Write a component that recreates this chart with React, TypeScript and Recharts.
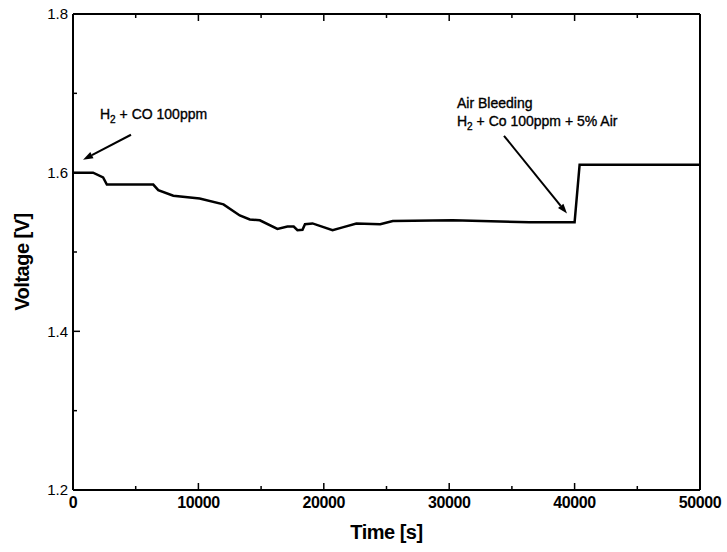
import { LineChart, Line, XAxis, YAxis, ReferenceLine, ReferenceDot } from 'recharts';

const timeS = [
  0, 1600, 2400, 2700, 6400, 6800, 8000, 10100, 12000, 13300, 14100, 14900, 16300, 17100,
  17600, 17900, 18300, 18500, 19100, 20700, 21500, 22600, 24500, 25500, 30300, 36400, 40000,
  40400, 50000,
];
const voltageV = [
  1.6, 1.6, 1.594, 1.585, 1.585, 1.578, 1.571, 1.5675, 1.56, 1.546, 1.541, 1.54, 1.529, 1.532,
  1.532, 1.5275, 1.528, 1.535, 1.536, 1.5275, 1.531, 1.536, 1.535, 1.539, 1.54, 1.5375, 1.5375,
  1.61, 1.61,
];

const xTicks = [0, 5000, 10000, 15000, 20000, 25000, 30000, 35000, 40000, 45000, 50000];
const yTicks = [1.2, 1.3, 1.4, 1.5, 1.6, 1.7, 1.8];

// annotation arrows: [tail, head] in data units
const arrowCo = [{ x: 4625, y: 1.6478 }, { x: 800, y: 1.6164 }];
const arrowAir = [{ x: 34370, y: 1.6465 }, { x: 39394, y: 1.5484 }];

const data = timeS.map((t, i) => ({ t, v: voltageV[i] }));

const FONT = '"Liberation Sans", Arial, sans-serif';
const TICK = 0.01; // near-zero so tick x/y sit on the axis line

const isMajorX = (v: number) => v % 10000 === 0;
const isMajorY = (v: number) => Math.round(v * 10) % 2 === 0;

function BottomTick({ x, y, payload }: any) {
  const major = isMajorX(payload.value);
  return (
    <g>
      <line x1={x} y1={y} x2={x} y2={y - (major ? 7 : 4)} stroke="#000" strokeWidth={1.5} />
      {major && (
        <text x={x} y={y + 18} textAnchor="middle" fontFamily={FONT} fontWeight="bold" fontSize={16} letterSpacing={-0.4} fill="#000">
          {payload.value}
        </text>
      )}
    </g>
  );
}

function TopTick({ x, y, payload }: any) {
  const major = isMajorX(payload.value);
  return <line x1={x} y1={y} x2={x} y2={y + (major ? 7 : 4)} stroke="#000" strokeWidth={1.5} />;
}

function LeftTick({ x, y, payload }: any) {
  const major = isMajorY(payload.value);
  return (
    <g>
      <line x1={x} y1={y} x2={x + (major ? 7 : 4)} y2={y} stroke="#000" strokeWidth={1.5} />
      {major && (
        <text x={x - 5} y={y} dy="0.36em" textAnchor="end" fontFamily={FONT} fontSize={15} fill="#000">
          {payload.value.toFixed(1)}
        </text>
      )}
    </g>
  );
}

function RightTick({ x, y, payload }: any) {
  const major = isMajorY(payload.value);
  return <line x1={x} y1={y} x2={x - (major ? 7 : 4)} y2={y} stroke="#000" strokeWidth={1.5} />;
}

function Arrow(props: any) {
  const { x1, y1, x2, y2 } = props;
  const a = Math.atan2(y2 - y1, x2 - x1);
  const len = 10;
  const w = 3.5;
  const bx = x2 - len * Math.cos(a);
  const by = y2 - len * Math.sin(a);
  const px = -Math.sin(a) * w;
  const py = Math.cos(a) * w;
  return (
    <g>
      <line x1={x1} y1={y1} x2={bx} y2={by} stroke="#000" strokeWidth={2} />
      <polygon points={`${x2},${y2} ${bx + px},${by + py} ${bx - px},${by - py}`} fill="#000" />
    </g>
  );
}

function H2() {
  return (
    <>
      <tspan>H</tspan>
      <tspan fontSize={10} dy={4}>2</tspan>
      <tspan dy={-4}> + </tspan>
    </>
  );
}

const annoText = { fontFamily: FONT, fontSize: 14, fill: '#000', stroke: '#000', strokeWidth: 0.35 };

function CoLabel({ viewBox }: any) {
  return (
    <text x={viewBox.x} y={viewBox.y} dy="0.36em" {...annoText}>
      <H2 />
      <tspan>CO 100ppm</tspan>
    </text>
  );
}

function AirLabel({ viewBox }: any) {
  return (
    <g>
      <text x={viewBox.x} y={viewBox.y} dy="0.36em" {...annoText}>
        Air Bleeding
      </text>
      <text x={viewBox.x} y={viewBox.y + 18} dy="0.36em" {...annoText}>
        <H2 />
        <tspan>Co 100ppm + 5% Air</tspan>
      </text>
    </g>
  );
}

const axisLine = { stroke: '#000', strokeWidth: 2 };

export default function App() {
  return (
    <div style={{ position: 'absolute', left: 0, top: 0, background: '#fff' }}>
      <LineChart width={727} height={552} data={data} margin={{ top: 13, right: 26, bottom: 0, left: 0 }}>
        <XAxis
          xAxisId="b"
          dataKey="t"
          type="number"
          domain={[0, 50000]}
          ticks={xTicks}
          tickSize={TICK}
          tickMargin={0}
          tickLine={false}
          tick={<BottomTick />}
          height={62}
          axisLine={axisLine}
          label={({ viewBox }: any) => (
            <text x={viewBox.x + viewBox.width / 2} y={viewBox.y + 49} textAnchor="middle" fontFamily={FONT} fontWeight="bold" fontSize={20} letterSpacing={-0.5} fill="#000">
              Time [s]
            </text>
          )}
        />
        <XAxis
          xAxisId="t"
          orientation="top"
          dataKey="t"
          type="number"
          domain={[0, 50000]}
          ticks={xTicks}
          tickSize={TICK}
          tickMargin={0}
          tickLine={false}
          tick={<TopTick />}
          height={1}
          axisLine={axisLine}
        />
        <YAxis
          yAxisId="l"
          type="number"
          domain={[1.2, 1.8]}
          ticks={yTicks}
          tickSize={TICK}
          tickMargin={0}
          tickLine={false}
          tick={<LeftTick />}
          width={73}
          axisLine={axisLine}
          label={({ viewBox }: any) => (
            <text x={22} y={viewBox.y + viewBox.height / 2 + 10} transform={`rotate(-90 22 ${viewBox.y + viewBox.height / 2 + 10})`} dy="0.36em" textAnchor="middle" fontFamily={FONT} fontWeight="bold" fontSize={20} letterSpacing={-0.5} fill="#000">
              Voltage [V]
            </text>
          )}
        />
        <YAxis
          yAxisId="r"
          orientation="right"
          type="number"
          domain={[1.2, 1.8]}
          ticks={yTicks}
          tickSize={TICK}
          tickMargin={0}
          tickLine={false}
          tick={<RightTick />}
          width={1}
          axisLine={axisLine}
        />
        <Line
          xAxisId="b"
          yAxisId="l"
          dataKey="v"
          type="linear"
          stroke="#000"
          strokeWidth={2.5}
          dot={false}
          isAnimationActive={false}
        />
        <ReferenceLine xAxisId="b" yAxisId="l" segment={arrowCo} shape={Arrow} />
        <ReferenceLine xAxisId="b" yAxisId="l" segment={arrowAir} shape={Arrow} />
        <ReferenceDot xAxisId="b" yAxisId="l" x={2153} y={1.6742} r={0} fill="none" stroke="none" label={CoLabel} />
        <ReferenceDot xAxisId="b" yAxisId="l" x={30622} y={1.688} r={0} fill="none" stroke="none" label={AirLabel} />
      </LineChart>
    </div>
  );
}
